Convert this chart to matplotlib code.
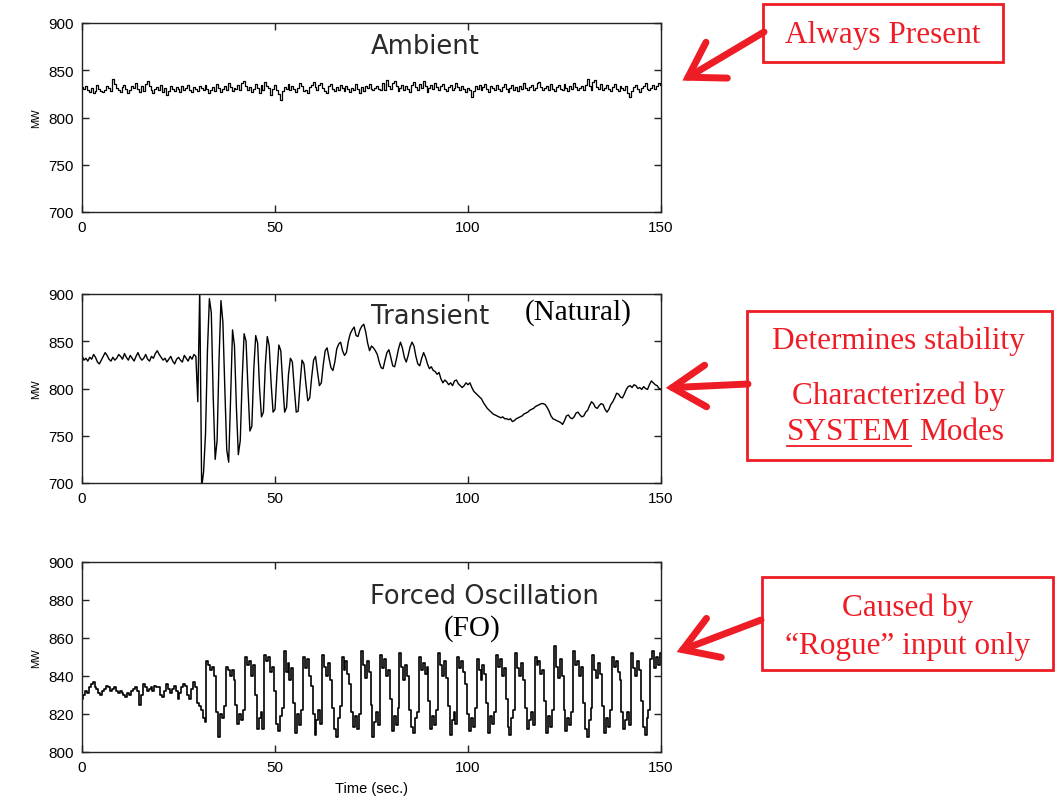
import numpy as np
import matplotlib
matplotlib.use("Agg")
import matplotlib.pyplot as plt
from matplotlib.patches import Rectangle, FancyArrowPatch
from matplotlib.lines import Line2D

# ---------------- data (MW, sampled every 0.5 s from 0 to 150 s) ----------------
ambient_mw = [
    832,830,833,829,827,831,826,828,834,830,828,827,829,833,831,828,841,835,831,829,
    827,832,834,830,826,829,833,831,836,830,827,833,828,835,839,833,829,826,830,832,
    829,834,827,831,824,828,833,830,828,832,830,827,833,829,831,834,829,827,832,830,
    828,833,831,829,834,830,826,829,832,828,835,831,827,830,833,829,836,832,828,831,
    830,834,829,837,839,833,829,832,827,830,835,831,826,834,829,838,833,831,824,830,
    834,829,825,819,828,832,830,835,829,833,830,827,831,836,833,828,829,826,832,834,
    838,832,829,834,837,831,828,826,833,835,830,828,832,829,834,831,828,833,830,827,
    831,829,835,830,826,832,828,833,831,835,830,829,831,833,830,829,836,829,840,833,
    830,836,839,833,828,831,834,829,833,830,827,834,838,832,829,835,831,839,833,827,
    831,834,830,836,832,829,833,835,830,828,832,834,829,831,836,832,829,833,830,827,
    831,829,822,828,833,830,834,829,832,835,830,827,833,831,829,834,830,828,832,835,
    830,827,831,834,829,832,828,833,830,836,831,829,832,834,829,831,836,838,832,829,
    831,833,829,835,830,828,832,834,830,829,835,831,828,833,830,836,832,829,831,833,
    829,834,841,833,829,838,840,832,830,835,829,831,834,830,828,832,835,830,828,833,
    831,829,833,826,822,828,832,834,830,827,831,833,836,830,829,831,834,830,833,836,
    834,
]

transient_mw = [
    # 0 - 29.5 s
    835,830,832,829,833,831,836,833,828,826,830,834,838,835,831,829,833,830,832,836,
    834,831,837,833,830,835,832,829,834,838,833,830,832,836,831,829,834,832,837,840,
    836,833,830,832,828,831,834,829,826,831,833,830,828,835,832,829,834,831,836,834,
    # 30 - 39.5 s
    786,905,695,712,752,840,895,880,790,725,745,830,893,870,800,735,722,790,862,845,
    # 40 - 49.5 s
    780,730,745,810,858,850,800,755,760,820,856,848,800,770,775,825,855,845,805,775,
    # 50 - 59.5 s
    778,815,846,840,805,775,780,815,832,828,800,775,776,805,830,826,805,787,790,812,
    # 60 - 69.5 s
    830,834,818,803,806,825,840,843,832,822,819,828,842,847,849,840,835,838,850,858,
    # 70 - 79.5 s
    862,865,856,855,862,866,868,860,848,840,845,843,840,836,828,822,821,830,838,841,
    # 80 - 89.5 s
    833,824,823,832,842,849,843,833,828,835,844,849,845,834,826,824,832,838,833,826,
    # 90 - 99.5 s
    821,823,819,818,815,817,810,806,809,807,804,806,803,808,809,805,803,801,803,806,
    # 100 - 109.5 s
    804,806,801,797,795,793,791,789,785,782,779,777,775,773,772,771,770,769,770,768,
    # 110 - 119.5 s
    768,767,768,765,766,768,769,770,771,773,774,775,777,778,779,781,782,783,784,784,
    # 120 - 129.5 s
    783,780,776,771,768,767,766,765,764,762,766,771,772,769,768,770,774,775,772,770,
    # 130 - 139.5 s
    771,775,777,782,786,784,780,779,782,784,783,778,775,778,783,786,790,795,794,791,
    # 140 - 150 s
    790,794,799,802,803,801,804,803,800,801,799,802,800,799,804,808,806,804,803,800,
    799,
]

forced_mw = [
    # 0 - 32 s : ambient part
    828,830,832,831,834,836,837,834,833,831,830,832,833,835,834,832,833,834,832,831,
    832,831,830,829,831,830,832,833,834,832,825,830,836,834,832,833,834,832,835,834,
    834,830,829,832,836,833,831,833,835,832,828,831,834,836,835,830,828,833,837,834,
    826,824,822,818,816,
    # 32.5 s onwards : forced oscillation, one row per ~5 s cycle
    848,846,843,845,840,821,808,820,818,824,
    845,843,840,843,838,825,815,820,817,822,
    850,846,848,840,846,830,812,818,821,812,
    851,848,850,842,845,832,815,811,819,823,
    853,842,847,838,844,826,810,820,814,822,
    850,844,849,840,835,820,809,817,822,815,
    851,845,840,847,838,823,812,808,818,824,
    850,843,848,841,836,821,813,819,812,820,
    853,846,839,848,842,825,808,816,821,814,
    851,844,849,840,843,828,811,819,814,823,
    852,845,838,846,840,822,813,810,818,821,
    850,843,847,841,845,827,812,819,814,822,
    852,846,840,848,839,824,809,817,821,815,
    850,844,848,842,836,820,811,818,813,823,
    849,843,838,846,841,826,810,819,815,821,
    851,845,849,840,844,828,813,809,818,822,
    852,844,840,847,838,823,812,817,821,814,
    850,846,848,841,843,827,810,819,813,822,
    856,845,839,849,840,822,811,818,814,821,
    853,846,848,840,845,826,812,808,817,823,
    851,843,839,847,841,824,810,818,813,822,
    850,845,848,842,838,821,812,817,821,814,
    852,844,840,848,843,827,813,809,818,822,
    849,853,844,850,846,852,
]

panel_titles = ["Ambient", "Transient", "Forced Oscillation"]
x_ticks = [0, 50, 100, 150]
y_ticks_12 = [700, 750, 800, 850, 900]
y_ticks_3 = [800, 820, 840, 860, 880, 900]

# ---------------- figure ----------------
W, H = 1055, 803
fig = plt.figure(figsize=(W / 100, H / 100), dpi=100)

def fx(px):
    return px / W

def fy(py):
    return 1 - py / H

# axes rectangles in pixel coordinates: left, top, right, bottom
rects = [(82, 24, 661, 213), (82, 295, 661, 484), (82, 563, 661, 753)]
series = [ambient_mw, transient_mw, forced_mw]
ylims = [(700, 900), (700, 900), (800, 900)]
yticks = [y_ticks_12, y_ticks_12, y_ticks_3]
styles = ["steps-mid", "default", "steps-mid"]
widths = [0.9, 1.0, 1.2]

axes = []
for (l, t, r, b), vals, yl, yt, ds, lw in zip(rects, series, ylims, yticks, styles, widths):
    ax = fig.add_axes([fx(l), fy(b), (r - l) / W, (b - t) / H])
    tt = np.linspace(0, 150, len(vals))
    ax.plot(tt, vals, color="black", lw=lw, drawstyle=ds)
    ax.set_xlim(0, 150)
    ax.set_ylim(*yl)
    ax.set_xticks(x_ticks)
    ax.set_yticks(yt)
    ax.tick_params(direction="in", length=5, width=1, top=True, right=True,
                   colors="#222222", labelcolor="black", pad=6)
    for lab in ax.get_xticklabels() + ax.get_yticklabels():
        lab.set_fontfamily("Liberation Sans")
        lab.set_fontsize(11)
    for sp in ax.spines.values():
        sp.set_linewidth(1.0)
        sp.set_color("#222222")
    ax.set_ylabel("MW", fontsize=8, family="Liberation Sans", labelpad=5)
    axes.append(ax)

axes[2].set_xlabel("Time (sec.)", fontsize=10.5, family="Liberation Sans", labelpad=5)

# panel titles (large thin sans)
title_pos = [(0.499, 0.878), (0.499, 0.883), (0.497, 0.822)]
for ax, txt, (x, y) in zip(axes, panel_titles, title_pos):
    ax.text(x, y, txt, transform=ax.transAxes, ha="left", va="center",
            fontsize=18.5, family="DejaVu Sans", color="#2a2a2a")

axes[1].text(0.764, 0.905, "(Natural)", transform=axes[1].transAxes, ha="left",
             va="center", fontsize=21, family="Liberation Serif", color="black")
axes[2].text(0.625, 0.653, "(FO)", transform=axes[2].transAxes, ha="left",
             va="center", fontsize=21, family="Liberation Serif", color="black")

# ---------------- red call-out boxes ----------------
RED = "#ee1c25"
boxes = [(763, 5, 1003, 63), (747, 312, 1052, 461), (762, 578, 1053, 671)]
for (l, t, r, b) in boxes:
    fig.add_artist(Rectangle((fx(l), fy(b)), (r - l) / W, (b - t) / H,
                             transform=fig.transFigure, fill=False,
                             edgecolor=RED, lw=2))

serif = dict(family="Liberation Serif", color=RED, fontsize=22.5)
fig.text(fx(883), fy(36), "Always Present", ha="center", va="center", **serif)
fig.text(fx(898), fy(341), "Determines stability", ha="center", va="center", **serif)
fig.text(fx(898), fy(396), "Characterized by", ha="center", va="center", **serif)
fig.text(fx(908), fy(608), "Caused by", ha="center", va="center", **serif)
fig.text(fx(908), fy(647), "\u201cRogue\u201d input only", ha="center", va="center", **serif)

# "SYSTEM Modes" with underlined SYSTEM
t_sys = fig.text(fx(787), fy(433), "SYSTEM", ha="left", va="center", **serif)
fig.canvas.draw()
bb = t_sys.get_window_extent()
figw_px = fig.dpi * fig.get_figwidth()
x_end = bb.x1 / figw_px
fig.text(x_end + fx(9), fy(433), "Modes", ha="left", va="center", **serif)
fig.add_artist(Line2D([bb.x0 / figw_px, x_end], [fy(447), fy(447)],
                      transform=fig.transFigure, color=RED, lw=1.3))

# ---------------- arrows ----------------
arrows = [((764, 33), (680, 83)), ((748, 385), (663, 389)), ((761, 621), (674, 654))]
for (tail, tip) in arrows:
    fig.add_artist(FancyArrowPatch((fx(tail[0]), fy(tail[1])), (fx(tip[0]), fy(tip[1])),
                                   transform=fig.transFigure,
                                   arrowstyle="->,head_length=1.2,head_width=0.75",
                                   mutation_scale=20, color=RED, lw=5,
                                   capstyle="round", joinstyle="miter",
                                   shrinkA=0, shrinkB=2))

fig.savefig("out.png", dpi=100)
